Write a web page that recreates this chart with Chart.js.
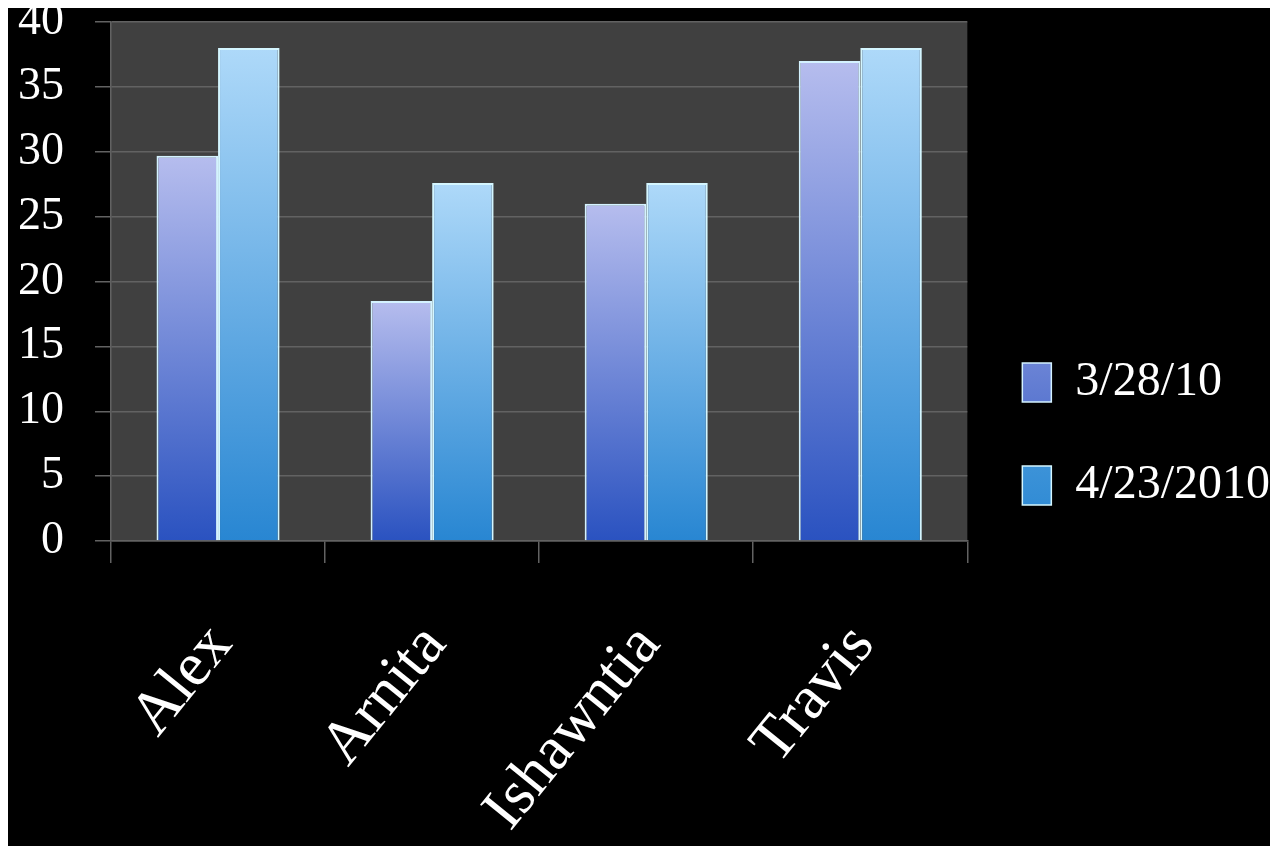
<!DOCTYPE html>
<html lang="en">
<head>
    <meta charset="UTF-8">
    <title>Scores</title>
    <script src="https://cdn.jsdelivr.net/npm/chart.js"></script>
    <style>
        html, body {
            margin: 0;
            padding: 0;
            background: white;
            overflow: hidden;
        }
        #scoreChart {
            position: absolute;
            left: 8px;
            top: 8px;
            background: black;
        }
    </style>
</head>
<body>

<canvas id="scoreChart" width="1262" height="838"></canvas>

<script>
    const names = ['Alex', 'Arnita', 'Ishawntia', 'Travis'];
    const seriesLabels = ['3/28/10', '4/23/2010'];
    const march = [29.7, 18.5, 26, 37];
    const april = [38, 27.6, 27.6, 38];
    const yTicks = [0, 5, 10, 15, 20, 25, 30, 35, 40];

    const serif = 'Liberation Serif, Times New Roman, serif';
    const gridGrey = '#626262';

    // vertical gradient running from each bar's base up to its top
    function barFill(bottom, top, flat) {
        return function (ctx) {
            const chart = ctx.chart;
            if (!chart.chartArea || ctx.type !== 'data') return flat;
            const y = chart.scales.y;
            const base = y.getPixelForValue(0);
            const tip = y.getPixelForValue(ctx.raw);
            const g = chart.ctx.createLinearGradient(0, base, 0, tip);
            g.addColorStop(0, bottom);
            g.addColorStop(1, top);
            return g;
        };
    }

    const backdrop = {
        id: 'backdrop',
        beforeDraw(chart) {
            const { ctx, chartArea } = chart;
            ctx.save();
            ctx.fillStyle = 'black';
            ctx.fillRect(0, 0, chart.width, chart.height);
            ctx.fillStyle = '#404040';
            ctx.fillRect(chartArea.left, chartArea.top,
                chartArea.right - chartArea.left, chartArea.bottom - chartArea.top);
            ctx.restore();
        }
    };

    const ctx = document.getElementById('scoreChart').getContext('2d');

    new Chart(ctx, {
        type: 'bar',
        data: {
            labels: names,
            datasets: [{
                label: seriesLabels[0],
                data: march,
                backgroundColor: barFill('#2a52c0', '#b6bdee', '#4a6fd6'),
                borderColor: '#d4f2ff',
                borderWidth: { top: 2, left: 2, right: 2, bottom: 0 },
                borderSkipped: false
            }, {
                label: seriesLabels[1],
                data: april,
                backgroundColor: barFill('#2886d2', '#aed9f9', '#4fb2ee'),
                borderColor: '#d4f6ff',
                borderWidth: { top: 2, left: 2, right: 2, bottom: 0 },
                borderSkipped: false
            }]
        },
        options: {
            responsive: false,
            animation: false,
            layout: {
                padding: { top: 14, left: 0, right: -10, bottom: 0 }
            },
            datasets: {
                bar: {
                    categoryPercentage: 0.575,
                    barPercentage: 1.0
                }
            },
            scales: {
                x: {
                    grid: {
                        drawOnChartArea: false,
                        drawTicks: true,
                        tickLength: 22,
                        color: gridGrey,
                        lineWidth: 1.5
                    },
                    border: { color: gridGrey, width: 1.5 },
                    ticks: {
                        color: 'white',
                        minRotation: 51,
                        maxRotation: 51,
                        padding: 48,
                        labelOffset: 3,
                        font: { family: serif, size: 62 }
                    },
                    afterFit(scale) {
                        scale.height = 305;
                        scale.paddingLeft = 0;
                        scale.paddingRight = 0;
                    }
                },
                y: {
                    min: 0,
                    max: 40,
                    afterBuildTicks(scale) {
                        scale.ticks = yTicks.map(v => ({ value: v }));
                    },
                    grid: {
                        color: gridGrey,
                        lineWidth: 1.5,
                        tickLength: 16
                    },
                    border: { color: gridGrey, width: 1.5 },
                    ticks: {
                        color: 'white',
                        padding: 31,
                        font: { family: serif, size: 46, lineHeight: 0.5 }
                    },
                    afterFit(scale) {
                        scale.width = 103;
                        scale.paddingTop = 0;
                        scale.paddingBottom = 0;
                    }
                }
            },
            plugins: {
                legend: {
                    position: 'right',
                    labels: {
                        color: 'white',
                        boxWidth: 29,
                        boxHeight: 39,
                        padding: 55,
                        font: { family: serif, size: 48 }
                    }
                },
                tooltip: { enabled: false }
            }
        },
        plugins: [backdrop]
    });
</script>

</body>
</html>
